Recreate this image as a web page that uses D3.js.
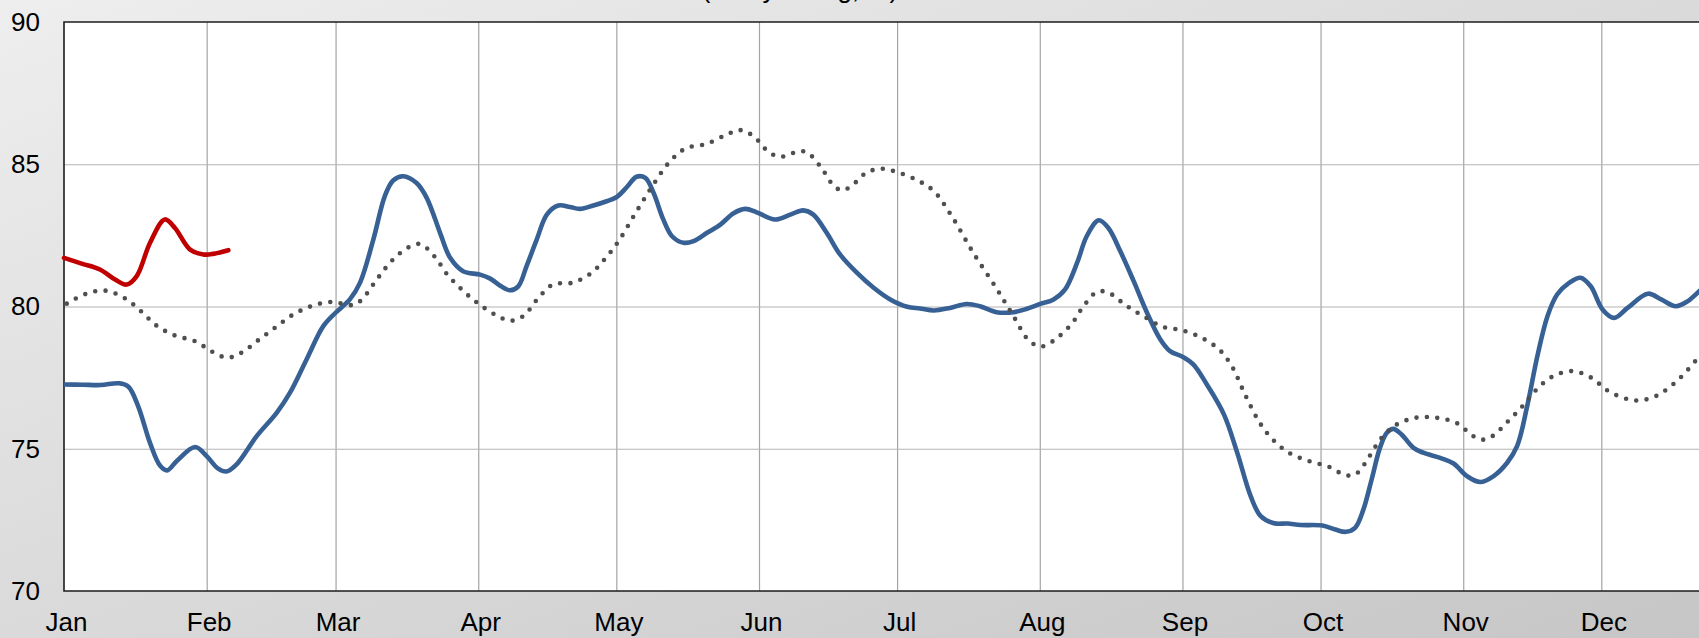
<!DOCTYPE html>
<html>
<head>
<meta charset="utf-8">
<script src="https://cdn.jsdelivr.net/npm/d3@7"></script>
<style>
  html, body { margin: 0; padding: 0; overflow: hidden; }
  svg { display: block; font-family: "Liberation Sans", Arial, sans-serif; }
</style>
</head>
<body>
<div id="chart"></div>
<script>
// month labels and the day of year each month starts on
const months = ["Jan", "Feb", "Mar", "Apr", "May", "Jun", "Jul", "Aug", "Sep", "Oct", "Nov", "Dec"]
const monthStarts = [0, 31, 59, 90, 120, 151, 181, 212, 243, 273, 304, 334]
const yTicks = [70, 75, 80, 85, 90]

// [day of year, value]
const current = [
	[0, 81.71], [4, 81.5], [7.8, 81.3], [11.1, 80.95], [13.6, 80.77], [15.8, 81.07],
	[18.7, 82.24], [21.9, 83.06], [24.1, 82.76], [27.4, 82.0], [30.3, 81.83], [32.4, 81.85], [35.7, 81.98]
]

const lastYear = [
	[0, 77.26], [4, 77.25], [8, 77.24], [12, 77.3], [14, 77.18], [16.1, 76.5], [18.7, 75.2],
	[20.9, 74.4], [22.4, 74.24], [24.5, 74.57], [28.5, 75.06], [31, 74.74], [33.5, 74.3],
	[35.3, 74.2], [37.5, 74.45], [41.9, 75.45], [46.2, 76.26], [49.1, 76.97], [52.7, 78.14],
	[56.3, 79.3], [59, 79.78], [62.1, 80.25], [64.3, 80.83], [67.2, 82.35], [69.7, 83.88],
	[71.5, 84.43], [73.7, 84.58], [76.6, 84.34], [78.8, 83.82], [81.7, 82.59], [83.9, 81.71],
	[86.7, 81.24], [90.4, 81.12], [92.6, 80.98], [94.7, 80.74], [96.9, 80.57], [98.7, 80.71],
	[100.5, 81.42], [102.7, 82.35], [104.9, 83.23], [107.4, 83.55], [109.9, 83.5], [112.1, 83.43],
	[115, 83.55], [117.9, 83.7], [120.1, 83.85], [122.3, 84.2], [124.4, 84.56], [126.3, 84.52],
	[128.1, 83.99], [130.2, 83.06], [132.1, 82.47], [134.6, 82.24], [136.8, 82.3], [139.7, 82.59],
	[142.6, 82.88], [145.4, 83.27], [148, 83.43], [150.5, 83.31], [154.5, 83.06], [157.8, 83.23],
	[160.6, 83.38], [162.8, 83.23], [165.7, 82.59], [168.6, 81.83], [172.3, 81.18], [175.9, 80.66],
	[179.5, 80.25], [183.2, 79.99], [186, 79.93], [189, 79.86], [192.5, 79.95], [196.1, 80.09],
	[199, 80.01], [202.6, 79.8], [206.3, 79.8], [209.2, 79.92], [212.1, 80.09], [215, 80.25],
	[217.5, 80.6], [220.1, 81.53], [222.2, 82.47], [224.8, 83.03], [226.9, 82.76], [229.5, 81.94],
	[232.4, 80.89], [235.3, 79.78], [238.2, 78.84], [240.3, 78.43], [243.2, 78.22], [245.4, 77.96],
	[248.3, 77.26], [252, 76.21], [254.9, 74.86], [257.8, 73.34], [260, 72.63], [262.9, 72.38],
	[265.8, 72.37], [268.7, 72.32], [273.4, 72.3], [276.2, 72.16], [278.5, 72.08], [280.5, 72.22],
	[282.3, 72.86], [284.1, 73.92], [285.9, 75.03], [287.4, 75.56], [288.8, 75.7], [290.6, 75.5],
	[293.2, 75.03], [295.3, 74.86], [299, 74.68], [301.9, 74.48], [304.8, 74.04], [307.7, 73.83],
	[310.6, 74.04], [313.5, 74.5], [315.7, 75.09], [317.9, 76.5], [320.1, 78.25], [322.3, 79.66],
	[324.4, 80.42], [327, 80.83], [329.5, 81.01], [331.7, 80.71], [334.3, 79.89], [336.8, 79.6],
	[339.7, 79.95], [344.1, 80.45], [347, 80.25], [350.2, 80.01], [352.8, 80.19], [355.5, 80.57], [358, 80.9]
]

const normal = [
	[0.6, 80.1], [4.7, 80.44], [8.9, 80.56], [13.3, 80.28], [16.7, 79.84], [20.1, 79.33],
	[24.1, 78.98], [28.5, 78.78], [32.3, 78.4], [35.5, 78.2], [38.6, 78.38], [42.3, 78.83],
	[45.9, 79.26], [49.6, 79.7], [53.7, 80.01], [58.1, 80.16], [62.5, 80.05], [64.5, 80.21],
	[67.3, 80.8], [70, 81.38], [73.2, 81.9], [77.2, 82.2], [80.6, 81.74], [83.1, 81.16],
	[86.4, 80.6], [89.8, 80.13], [93.6, 79.72], [97, 79.5], [99.9, 79.68], [102.8, 80.25],
	[106.2, 80.77], [110.6, 80.84], [114.6, 81.18], [117.7, 81.71], [120.5, 82.3], [124, 83.24],
	[127.7, 84.2], [131.6, 85.09], [135.1, 85.56], [139.5, 85.71], [143.7, 86.02], [146.8, 86.2],
	[149.7, 86.0], [152.9, 85.46], [155.5, 85.26], [159.2, 85.43], [161.3, 85.43], [164.4, 84.91],
	[167, 84.29], [168.8, 84.09], [170.8, 84.2], [174.3, 84.7], [177.5, 84.84], [180.9, 84.73],
	[185.1, 84.46], [188.9, 84.07], [192.9, 83.17], [197.5, 81.9], [202.5, 80.66], [206.1, 79.71],
	[209.8, 78.78], [212.5, 78.6], [215.8, 78.9], [219.1, 79.43], [221.5, 80.01], [224.5, 80.52],
	[227, 80.48], [230.7, 80.04], [234.5, 79.66], [238.7, 79.29], [243, 79.16], [247.3, 78.89],
	[251.1, 78.47], [253.8, 77.88], [256.7, 76.87], [259.8, 75.91], [262.6, 75.33], [266.1, 74.86],
	[270.4, 74.57], [274.6, 74.38], [278.7, 74.06], [280.9, 74.14], [283.6, 74.73], [286.1, 75.35],
	[289.3, 75.83], [293.7, 76.09], [298.2, 76.09], [302.6, 75.9], [306.2, 75.44], [308.2, 75.32],
	[310.3, 75.44], [313.7, 75.96], [316.9, 76.5], [319.8, 77.06], [323.3, 77.53], [327.6, 77.73],
	[331.8, 77.5], [335.4, 77.04], [339.6, 76.75], [342.5, 76.7], [346.1, 76.87], [349.9, 77.31],
	[353.1, 77.83], [356, 78.4], [358, 78.8]
]

// the plot runs past the right edge of the window, as in the picture
const W = 1699, H = 638
const margin = {top: 22, bottom: 47, left: 64},
	width = 1680,
	height = H - margin.top - margin.bottom

const svg = d3.select("#chart")
	.append("svg")
		.attr("width", W)
		.attr("height", H)

const grad = svg.append("defs").append("linearGradient")
	.attr("id", "bg")
	.attr("x1", 0).attr("y1", 0).attr("x2", 1).attr("y2", 1)
grad.append("stop").attr("offset", "0%").attr("stop-color", "#eeeeee")
grad.append("stop").attr("offset", "100%").attr("stop-color", "#c6c6c6")

svg.append("rect")
	.attr("width", W)
	.attr("height", H)
	.attr("fill", "url(#bg)")

// subtitle, almost all of it above the top edge
svg.append("text")
	.attr("x", 800)
	.attr("y", -2)
	.attr("text-anchor", "middle")
	.attr("font-size", 26)
	.text("(7-day rolling, %)")

const g = svg.append("g")
	.attr("transform", `translate(${margin.left}, ${margin.top})`)

const x = d3.scaleLinear().domain([0, 365]).range([0, width])
const y = d3.scaleLinear().domain([70, 90]).range([height, 0])

g.append("rect")
	.attr("width", width)
	.attr("height", height)
	.attr("fill", "#fff")

// grid
g.append("g")
	.call(d3.axisBottom(x).tickValues(monthStarts.slice(1)).tickSize(height).tickFormat(""))
	.call(a => a.select(".domain").remove())
	.call(a => a.selectAll("line").attr("stroke", "#a4a4a4").attr("stroke-width", 1.2))

g.append("g")
	.call(d3.axisLeft(y).tickValues(yTicks.slice(1, -1)).tickSize(-width).tickFormat(""))
	.call(a => a.select(".domain").remove())
	.call(a => a.selectAll("line").attr("stroke", "#b4b4b4").attr("stroke-width", 1.2))

// axis labels
g.append("g")
	.attr("transform", `translate(0, ${height})`)
	.call(d3.axisBottom(x).tickValues(monthStarts).tickSize(0).tickPadding(21.5)
		.tickFormat((d, i) => months[i]))
	.call(a => a.select(".domain").remove())
	.call(a => a.selectAll("text")
		.attr("dx", 2)
		.attr("font-size", 26)
		.attr("font-family", "'Liberation Sans', Arial, sans-serif")
		.attr("fill", "#000"))

g.append("g")
	.call(d3.axisLeft(y).tickValues(yTicks).tickSize(0).tickPadding(24))
	.call(a => a.select(".domain").remove())
	.call(a => a.selectAll("text")
		.attr("font-size", 26)
		.attr("font-family", "'Liberation Sans', Arial, sans-serif")
		.attr("fill", "#000"))

// plot frame (right side is off screen)
g.append("path")
	.attr("d", `M${width},0H0V${height}H${width}`)
	.attr("fill", "none")
	.attr("stroke", "#1c1c1c")
	.attr("stroke-width", 1.6)

const line = d3.line()
	.x(d => x(d[0]))
	.y(d => y(d[1]))
	.curve(d3.curveCatmullRom.alpha(0.5))

g.append("path")
	.datum(lastYear)
	.attr("d", line)
	.attr("fill", "none")
	.attr("stroke", "#376195")
	.attr("stroke-width", 4.6)
	.attr("stroke-linejoin", "round")

g.append("path")
	.datum(current)
	.attr("d", line)
	.attr("fill", "none")
	.attr("stroke", "#c00000")
	.attr("stroke-width", 4.6)
	.attr("stroke-linecap", "round")
	.attr("stroke-linejoin", "round")

g.append("path")
	.datum(normal)
	.attr("d", line)
	.attr("fill", "none")
	.attr("stroke", "#4f4f4f")
	.attr("stroke-width", 4.6)
	.attr("stroke-linecap", "round")
	.attr("stroke-dasharray", "0, 10.4")
</script>
</body>
</html>
